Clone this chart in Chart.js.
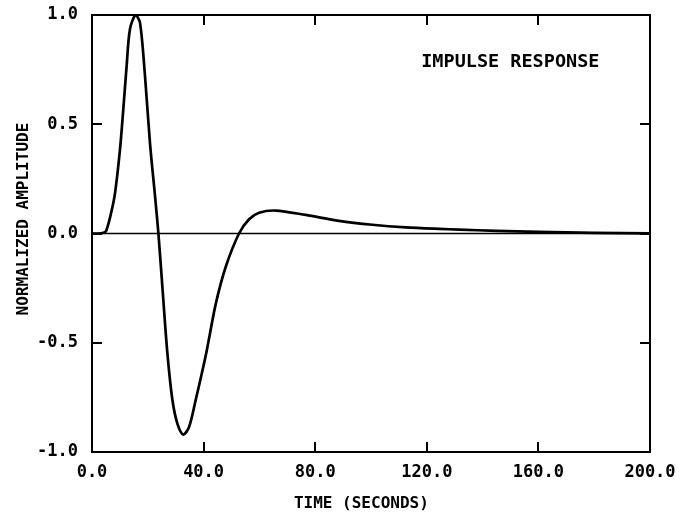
<!DOCTYPE html>
<html><head><meta charset="utf-8">
<script src="https://cdn.jsdelivr.net/npm/chart.js@4/dist/chart.umd.min.js"></script>
<style>html,body{margin:0;padding:0;background:#fff;}</style>
</head><body>
<canvas id="c" width="681" height="516"></canvas>
<script>
// ---- data ----
const timeSeconds = [0, 2, 3, 4, 5, 6.5, 8.2, 10.0, 11.2, 12.4, 13.6, 15.6, 17.2, 19.0, 20.8, 22.6, 23.8,
  25.2, 27.0, 28.8, 30.6, 32.7, 34.8, 37.2, 40.9, 44.4, 48.0, 52.7, 56.3, 59.9, 65.8, 76.6, 88.5,
  100.5, 112.4, 124.4, 131.6, 145, 160, 180, 200];
const normalizedAmplitude = [0, 0, 0.001, 0.003, 0.01, 0.075, 0.18, 0.38, 0.565, 0.765, 0.935, 1.0, 0.965, 0.72, 0.41, 0.17, 0.0,
  -0.24, -0.545, -0.76, -0.87, -0.92, -0.885, -0.76, -0.55, -0.32, -0.15, 0.0, 0.065, 0.095, 0.105, 0.085, 0.058,
  0.04, 0.028, 0.021, 0.018, 0.012, 0.007, 0.003, 0.001];
const zeroLineTimes = [0, 200];
const zeroLineValues = [0, 0];
const xTickValues = [0, 40, 80, 120, 160, 200];
const xTickLabels = ['0.0', '40.0', '80.0', '120.0', '160.0', '200.0'];
const yTickValues = [-1, -0.5, 0, 0.5, 1];
const yTickLabels = ['-1.0', '-0.5', '0.0', '0.5', '1.0'];
const xTitle = 'TIME (SECONDS)  ';
const yTitle = '   NORMALIZED AMPLITUDE';
const annotationText = 'IMPULSE RESPONSE';
const annotationAt = { x: 118, y: 0.785 };

const FONT = "'DejaVu Sans Mono', 'Liberation Mono', monospace";

const toPoints = (xs, ys) => xs.map((x, i) => ({ x: x, y: ys[i] }));

const framePlugin = {
  id: 'frame',
  beforeDraw(chart) {
    const ctx = chart.ctx;
    ctx.save();
    ctx.fillStyle = '#ffffff';
    ctx.fillRect(0, 0, chart.width, chart.height);
    ctx.restore();
  },
  afterDatasetsDraw(chart) {
    const ctx = chart.ctx;
    const a = chart.chartArea;
    const xs = chart.scales.x, ys = chart.scales.y;
    const len = 10;
    ctx.save();
    ctx.strokeStyle = '#000';
    ctx.lineWidth = 2;
    ctx.strokeRect(a.left, a.top, a.right - a.left, a.bottom - a.top);
    ctx.beginPath();
    xTickValues.forEach(v => {
      if (v === xs.min || v === xs.max) return;
      const px = Math.round(xs.getPixelForValue(v));
      ctx.moveTo(px, a.bottom); ctx.lineTo(px, a.bottom - len);
      ctx.moveTo(px, a.top); ctx.lineTo(px, a.top + len);
    });
    yTickValues.forEach(v => {
      if (v === ys.min || v === ys.max) return;
      const py = Math.round(ys.getPixelForValue(v));
      ctx.moveTo(a.left, py); ctx.lineTo(a.left + len, py);
      ctx.moveTo(a.right, py); ctx.lineTo(a.right - len, py);
    });
    ctx.stroke();
    // annotation label
    ctx.fillStyle = '#000';
    ctx.font = "bold 18.5px " + FONT;
    ctx.textAlign = 'left';
    ctx.textBaseline = 'middle';
    ctx.fillText(annotationText, xs.getPixelForValue(annotationAt.x), ys.getPixelForValue(annotationAt.y));
    ctx.restore();
  }
};

new Chart(document.getElementById('c'), {
  type: 'line',
  data: {
    datasets: [
      {
        label: 'Impulse response',
        data: toPoints(timeSeconds, normalizedAmplitude),
        borderColor: '#000',
        borderWidth: 2.7,
        pointRadius: 0,
        fill: false,
        tension: 0.3
      },
      {
        label: 'Zero',
        data: toPoints(zeroLineTimes, zeroLineValues),
        borderColor: '#000',
        borderWidth: 1.5,
        pointRadius: 0,
        fill: false
      }
    ]
  },
  options: {
    responsive: false,
    animation: false,
    devicePixelRatio: 1,
    layout: { padding: { top: 15, right: 31, left: 0, bottom: 0 } },
    plugins: { legend: { display: false }, tooltip: { enabled: false } },
    scales: {
      x: {
        type: 'linear', min: 0, max: 200,
        afterFit(s) { s.height = 64; s.paddingLeft = 0; s.paddingRight = 0; },
        grid: { display: false, drawTicks: false },
        border: { display: false },
        afterBuildTicks(s) { s.ticks = xTickValues.map(v => ({ value: v })); },
        ticks: {
          color: '#000', padding: 10, maxRotation: 0, autoSkip: false,
          font: { family: FONT, size: 17, weight: 'bold' },
          callback(v) { const i = xTickValues.indexOf(v); return i >= 0 ? xTickLabels[i] : ''; }
        },
        title: {
          display: true, text: xTitle, color: '#000',
          font: { family: FONT, size: 16, weight: 'bold' },
          padding: { top: 0, bottom: 3 }
        }
      },
      y: {
        type: 'linear', min: -1, max: 1,
        afterFit(s) { s.width = 92; s.paddingTop = 0; s.paddingBottom = 0; },
        grid: { display: false, drawTicks: false },
        border: { display: false },
        afterBuildTicks(s) { s.ticks = yTickValues.map(v => ({ value: v })); },
        ticks: {
          color: '#000', padding: 14, autoSkip: false,
          font: { family: FONT, size: 17, weight: 'bold' },
          callback(v) { const i = yTickValues.indexOf(v); return i >= 0 ? yTickLabels[i] : ''; }
        },
        title: {
          display: true, text: yTitle, color: '#000',
          font: { family: FONT, size: 16, weight: 'bold' },
          padding: { top: 14, bottom: 0 }
        }
      }
    }
  },
  plugins: [framePlugin]
});
</script>
</body></html>
